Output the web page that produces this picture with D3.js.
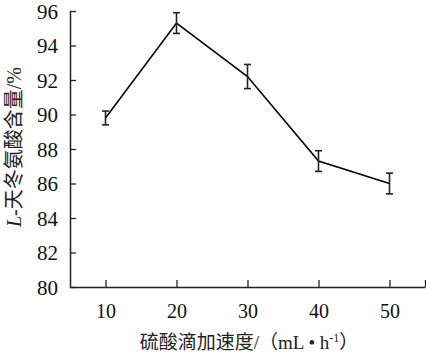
<!DOCTYPE html>
<html>
<head>
<meta charset="utf-8">
<script src="https://cdn.jsdelivr.net/npm/d3@7"></script>
<style>
  html, body { margin: 0; padding: 0; background: #fff; }
  svg { display: block; }
  text { font-family: "Liberation Serif", "Noto Sans CJK SC", serif; fill: #111; }
</style>
</head>
<body>
<div id="chart"></div>
<script>
// Data
const rates = [10, 20, 30, 40, 50];              // 硫酸滴加速度 (mL·h⁻¹)
const content = [89.8, 95.3, 92.2, 87.3, 86.0];   // L-天冬氨酸含量 (%)
const errors = [0.4, 0.6, 0.7, 0.6, 0.6];         // error bar half-lengths
const xTicks = [10, 20, 30, 40, 50];
const yTicks = [80, 82, 84, 86, 88, 90, 92, 94, 96];

const W = 426, H = 358;
const margin = { left: 70, right: 1, top: 11, bottom: 71 };

const svg = d3.select("#chart").append("svg")
  .attr("width", W).attr("height", H);

const x = d3.scaleLinear().domain([5, 55]).range([margin.left, W - margin.right]);
const y = d3.scaleLinear().domain([80, 96]).range([H - margin.bottom, margin.top]);

const axisColor = "#222";

// X axis (ticks inward)
const xAxis = svg.append("g")
  .attr("transform", `translate(0,${y(80)})`)
  .call(d3.axisBottom(x).tickValues(xTicks.concat([55])).tickSizeInner(-7).tickSizeOuter(0)
    .tickFormat(d => xTicks.includes(d) ? d : ""));
xAxis.select(".domain").attr("stroke", axisColor).attr("stroke-width", 1.5);
xAxis.selectAll(".tick line").attr("stroke", axisColor).attr("stroke-width", 1.3);
xAxis.selectAll(".tick text")
  .attr("y", 17).attr("dy", "0.71em")
  .style("font-size", "20px").style("font-family", "Liberation Serif");

// Y axis (ticks inward)
const yAxis = svg.append("g")
  .attr("transform", `translate(${x(5)},0)`)
  .call(d3.axisLeft(y).tickValues(yTicks).tickSizeInner(-6).tickSizeOuter(0));
yAxis.select(".domain").attr("stroke", axisColor).attr("stroke-width", 1.5);
yAxis.selectAll(".tick line").attr("stroke", axisColor).attr("stroke-width", 1.3);
yAxis.selectAll(".tick text")
  .attr("x", -12).attr("dy", "0.35em")
  .style("font-size", "21px").style("font-family", "Liberation Serif");

// Line
const line = d3.line().x((d, i) => x(rates[i])).y(d => y(d));
svg.append("path")
  .datum(content)
  .attr("d", line)
  .attr("fill", "none")
  .attr("stroke", "#000")
  .attr("stroke-width", 1.6);

// Error bars
const eb = svg.append("g").attr("stroke", "#222").attr("stroke-width", 1.6);
content.forEach((v, i) => {
  const cx = x(rates[i]);
  const y1 = y(v + errors[i]), y2 = y(v - errors[i]);
  eb.append("line").attr("x1", cx).attr("x2", cx).attr("y1", y1).attr("y2", y2);
  eb.append("line").attr("x1", cx - 3.5).attr("x2", cx + 3.5).attr("y1", y1).attr("y2", y1);
  eb.append("line").attr("x1", cx - 3.5).attr("x2", cx + 3.5).attr("y1", y2).attr("y2", y2);
});

// X axis title
const xt = svg.append("text")
  .attr("x", 249).attr("y", 349)
  .attr("text-anchor", "middle")
  .style("font-size", "19px")
  .style("fill", "#222");
xt.append("tspan").text("硫酸滴加速度/（mL • h");
xt.append("tspan").attr("dy", -7).style("font-size", "12px").text("-1");
xt.append("tspan").attr("dy", 7).text("）");

// Y axis title
const yt = svg.append("text")
  .attr("transform", `translate(21,${(y(80) + y(96)) / 2 - 2}) rotate(-90)`)
  .attr("text-anchor", "middle")
  .style("font-size", "20px")
  .style("fill", "#222");
yt.append("tspan").style("font-style", "italic").text("L");
yt.append("tspan").text("-天冬氨酸含量/%");
</script>
</body>
</html>
